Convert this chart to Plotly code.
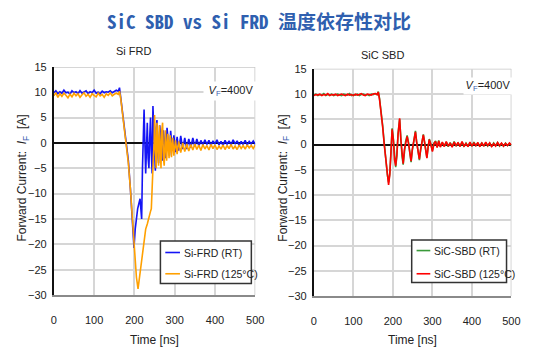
import plotly.graph_objects as go

# ---------------- data ----------------
flat_t = [0, 5, 10, 15, 20, 25, 30, 35, 40, 45, 50, 55, 60, 65, 70, 75,
          80, 85, 90, 95, 100, 105, 110, 115, 120, 125, 130, 135, 140, 145, 150, 155]

# Si FRD, room temperature (blue)
si_rt_flat = [9.9, 10.3, 9.7, 10.1, 9.8, 10.4, 9.9, 10.0, 9.6, 10.3, 9.9, 10.1, 9.7, 10.3, 9.8, 10.0,
              10.3, 9.7, 10.1, 9.9, 10.4, 9.8, 10.0, 9.7, 10.2, 9.9, 10.1, 10.0, 10.3, 9.9, 10.2, 10.4]
si_rt_tr_t = [160, 163, 166, 170, 175, 180, 185, 190, 195, 199, 202, 205, 208, 211, 214, 216, 218, 220,
              222, 224, 226, 228, 230, 232, 234, 236, 238, 240, 242, 244, 246, 248, 250, 252, 254, 256,
              258, 260, 263, 266, 269, 272, 275, 278, 281, 284, 287, 290, 294, 298, 302, 306, 310, 315,
              320, 325, 330, 335, 340, 345, 350, 355, 360]
si_rt_tr = [10.2, 10.9, 9.0, 6.5, 3.5, 0.5, -3.5, -9.0, -15.0, -20.7, -17.0, -14.5, -13.0, -12.0, -11.0,
            -13.0, -15.0, -5.0, 3.0, 6.6, 0.0, -6.0, -1.0, 4.0, -3.0, -5.0, 1.0, 5.0, -2.0, -6.0, 7.3,
            2.0, -4.0, -5.5, 3.0, 4.5, -2.0, -4.0, 3.5, -1.0, -3.5, 2.5, -1.0, -3.0, 3.0, 0.0, -2.5,
            2.4, -1.5, 1.5, -1.8, 1.2, -1.5, 1.4, -1.2, 1.0, -1.2, 0.8, -0.9, 1.0, -0.7, 0.8, -0.6]
si_rt_tail_t = [365, 370, 375, 380, 385, 390, 395, 400, 405, 410, 415, 420, 425, 430,
                435, 440, 445, 450, 455, 460, 465, 470, 475, 480, 485, 490, 495, 500]
si_rt_tail = [0.5, -0.4, 0.6, -0.3, 0.5, -0.5, 0.4, -0.2, 0.6, -0.4, 0.3, -0.5, 0.5, -0.3,
              0.4, -0.4, 0.6, -0.2, 0.4, -0.5, 0.3, -0.3, 0.5, -0.4, 0.3, -0.2, 0.4, -0.3]

# Si FRD, 125 C (orange)
si_ht_flat = [9.3, 9.9, 9.0, 9.7, 9.2, 9.8, 9.4, 8.9, 9.6, 9.1, 9.8, 9.3, 9.7, 9.0, 9.5, 9.9,
              9.2, 9.6, 9.0, 9.7, 9.4, 9.1, 9.8, 9.3, 9.6, 9.0, 9.7, 9.4, 9.9, 9.3, 9.6, 9.8]
si_ht_tr_t = [160, 163, 166, 170, 175, 180, 185, 190, 195, 200, 205, 209, 212, 216, 220, 224, 228,
              232, 236, 240, 242, 243, 245, 247, 249, 250, 252, 254, 256, 258, 260, 262, 264, 266,
              268, 270, 272, 274, 277, 280, 283, 286, 289, 292, 295, 298, 302, 306, 310, 315, 320,
              325, 330, 335, 340]
si_ht_tr = [9.6, 10.2, 8.8, 6.0, 3.0, 0.0, -4.0, -9.0, -15.0, -21.0, -26.5, -28.8, -27.0, -24.5,
            -21.5, -19.0, -17.0, -16.0, -14.5, -13.5, -13.0, -10.0, -6.0, -3.0, 0.0, 5.5, -1.0,
            -5.0, 4.0, 1.0, -4.5, 3.5, -3.0, -5.0, 2.5, 4.0, -3.0, -4.5, 2.5, -3.5, 1.8, -3.0,
            1.5, -2.8, 1.0, -2.5, 0.5, -2.2, 0.3, -1.9, 0.0, -1.7, -0.2, -1.6, -0.3]
si_ht_tail_t = [345, 350, 355, 360, 365, 370, 375, 380, 385, 390, 395, 400, 405, 410, 415, 420,
                425, 430, 435, 440, 445, 450, 455, 460, 465, 470, 475, 480, 485, 490, 495, 500]
si_ht_tail = [-1.4, -0.2, -1.3, -0.4, -1.5, -0.3, -1.2, -0.5, -1.4, -0.3, -1.1, -0.4, -1.3, -0.6,
              -1.2, -0.4, -1.3, -0.5, -1.1, -0.3, -1.2, -0.6, -1.3, -0.4, -1.1, -0.5, -1.2, -0.4,
              -1.0, -0.5, -1.1, -0.4]

# SiC SBD (green = RT, red = 125 C)
sic_flat_rt = [9.8, 10.0, 9.7, 9.9, 9.8, 10.1, 9.7, 9.9, 9.8, 10.0, 9.7, 9.9, 10.0, 9.8, 9.7, 10.0,
               9.9, 9.8, 10.1, 9.7, 9.9, 9.8, 10.0, 9.7, 9.9, 10.0, 9.8, 9.9, 9.7, 10.0, 9.9, 10.1]
sic_flat_ht = [9.7, 9.9, 9.8, 10.0, 9.7, 9.9, 9.8, 10.1, 9.7, 9.9, 9.8, 10.0, 9.7, 9.9, 10.0, 9.8,
               9.7, 10.0, 9.8, 9.9, 9.7, 10.0, 9.8, 9.9, 10.1, 9.8, 9.7, 10.0, 9.9, 9.8, 10.0, 10.1]
sic_tr_t = [160, 163, 166, 170, 174, 178, 182, 186, 189, 192, 195, 198, 201, 204, 207, 210, 213, 217,
            220, 223, 226, 229, 232, 236, 240, 243, 246, 249, 253, 257, 260, 264, 267, 270, 274, 277,
            280, 283, 286, 289, 292, 296, 300, 304, 308, 312, 316, 320]
sic_tr_rt = [9.9, 10.5, 9.2, 6.8, 3.8, 0.3, -3.2, -6.0, -7.5, -5.8, -1.8, 3.2, 1.2, -2.8, -4.5, -2.2,
             2.2, 5.0, 1.2, -2.3, -4.0, -1.2, 0.6, 1.8, 0.2, -1.8, -3.5, -1.2, 1.1, 2.7, 0.6, -1.8,
             -3.1, -1.2, 0.9, 2.0, 0.6, -1.4, -2.6, -0.6, 1.1, 0.1, -1.2, 0.3, 0.7, -0.5, 0.8, -0.4]
sic_tr_ht = [9.9, 10.4, 9.0, 6.5, 3.5, 0.0, -3.5, -6.5, -8.0, -6.0, -2.0, 3.0, 1.0, -3.0, -4.2, -2.0,
             2.0, 5.2, 1.0, -2.5, -3.8, -1.0, 0.5, 1.6, 0.0, -2.0, -3.3, -1.0, 1.0, 2.5, 0.5, -2.0,
             -2.9, -1.0, 0.8, 1.9, 0.5, -1.5, -2.7, -0.5, 1.0, 0.0, -1.4, 0.2, 0.6, -0.6, 0.7, -0.5]
sic_tail_t = [325, 330, 335, 340, 345, 350, 355, 360, 365, 370, 375, 380, 385, 390, 395, 400, 405, 410,
              415, 420, 425, 430, 435, 440, 445, 450, 455, 460, 465, 470, 475, 480, 485, 490, 495, 500]
sic_tail_rt = [0.4, -0.3, 0.5, -0.4, 0.4, -0.4, 0.6, -0.3, 0.3, -0.3, 0.5, -0.4, 0.3, -0.3, 0.4, -0.3,
               0.5, -0.2, 0.3, -0.3, 0.4, -0.3, 0.4, -0.3, 0.3, -0.4, 0.3, -0.2, 0.4, -0.3, 0.2, -0.3,
               0.3, -0.2, 0.2, -0.1]
sic_tail_ht = [0.5, -0.4, 0.6, -0.3, 0.3, -0.5, 0.5, -0.2, 0.4, -0.4, 0.6, -0.3, 0.2, -0.4, 0.5, -0.3,
               0.3, -0.2, 0.4, -0.4, 0.3, -0.3, 0.5, -0.2, 0.3, -0.4, 0.2, -0.3, 0.4, -0.2, 0.3, -0.3,
               0.2, -0.2, 0.3, -0.1]

x_ticks = [0, 100, 200, 300, 400, 500]
y_ticks = [-30, -25, -20, -15, -10, -5, 0, 5, 10, 15]
series_names = ['Si-FRD (RT)', 'Si-FRD (125°C)', 'SiC-SBD (RT)', 'SiC-SBD (125°C)']

# ---------------- assemble series ----------------
t_si_rt = flat_t + si_rt_tr_t + si_rt_tail_t
i_si_rt = si_rt_flat + si_rt_tr + si_rt_tail
t_si_ht = flat_t + si_ht_tr_t + si_ht_tail_t
i_si_ht = si_ht_flat + si_ht_tr + si_ht_tail
t_sic = flat_t + sic_tr_t + sic_tail_t
i_sic_rt = sic_flat_rt + sic_tr_rt + sic_tail_rt
i_sic_ht = sic_flat_ht + sic_tr_ht + sic_tail_ht

W, H = 539, 360
def px(x):
    return x / W
def py(y):
    return 1 - y / H

BLUE = '#1414f5'
ORANGE = '#ffa000'
GREEN = '#3a9a3a'
RED = '#ff0000'
COLORS = [BLUE, ORANGE, GREEN, RED]
FONT = 'Liberation Sans, Arial, sans-serif'

fig = go.Figure()
for tx, iy, ax, ay, k in ((t_si_rt, i_si_rt, 'x', 'y', 0), (t_si_ht, i_si_ht, 'x', 'y', 1),
                          (t_sic, i_sic_rt, 'x2', 'y2', 2), (t_sic, i_sic_ht, 'x2', 'y2', 3)):
    fig.add_trace(go.Scatter(x=tx, y=iy, mode='lines', name=series_names[k],
                             line=dict(color=COLORS[k], width=1.6), xaxis=ax, yaxis=ay,
                             showlegend=False, hoverinfo='skip'))

axis_common_x = dict(range=[0, 500], tickvals=x_ticks, showgrid=True, gridcolor='#d6d6d6',
                     gridwidth=1.5, zeroline=False, showline=True, linecolor='#8a8a8a',
                     linewidth=1.5, ticks='outside', ticklen=14,
                     tickcolor='rgba(0,0,0,0)', tickfont=dict(family=FONT, size=11, color='#222'))
axis_common_y = dict(range=[-30, 15], tickvals=y_ticks, showgrid=True, gridcolor='#d6d6d6',
                     gridwidth=1.5, zeroline=True, zerolinecolor='#111', zerolinewidth=1.5,
                     showline=True, linecolor='#111', linewidth=2,
                     ticks='outside', ticklen=3, tickcolor='rgba(0,0,0,0)',
                     tickfont=dict(family=FONT, size=11, color='#222'))

L = dict(x0=52, x1=258, top=63, bot=299)
R = dict(x0=318, x1=520, top=65, bot=300)

fig.update_layout(
    width=W, height=H, margin=dict(l=0, r=0, t=0, b=0),
    paper_bgcolor='white', plot_bgcolor='white', showlegend=False,
    xaxis=dict(domain=[px(L['x0']), px(L['x1'])], anchor='y', **axis_common_x),
    yaxis=dict(domain=[py(L['bot']), py(L['top'])], anchor='x', **axis_common_y),
    xaxis2=dict(domain=[px(R['x0']), px(R['x1'])], anchor='y2', **axis_common_x),
    yaxis2=dict(domain=[py(R['bot']), py(R['top'])], anchor='x2', **axis_common_y),
)

shapes = []
ann = []
# light frame on top/right
for xr, yr in (('x', 'y'), ('x2', 'y2')):
    shapes.append(dict(type='line', xref=xr, yref=yr, x0=0, x1=500, y0=15, y1=15,
                       line=dict(color='#c8c8c8', width=1.5), layer='below'))
    shapes.append(dict(type='line', xref=xr, yref=yr, x0=500, x1=500, y0=-30, y1=15,
                       line=dict(color='#c8c8c8', width=1.5), layer='below'))

# legends (drawn as boxes with line samples and labels)
legend_boxes = [
    dict(x0=161, x1=254, y0=243, y1=287, sx=(166, 181), tx=183, rows=(255, 277), k=(0, 1)),
    dict(x0=418, x1=515, y0=242, y1=286, sx=(423, 437), tx=439, rows=(253, 277), k=(2, 3)),
]
for b in legend_boxes:
    shapes.append(dict(type='rect', xref='paper', yref='paper', x0=px(b['x0']), x1=px(b['x1']),
                       y0=py(b['y1']), y1=py(b['y0']), fillcolor='white',
                       line=dict(color='#333', width=1.5), layer='above'))
    for row, k in zip(b['rows'], b['k']):
        shapes.append(dict(type='line', xref='paper', yref='paper', x0=px(b['sx'][0]),
                           x1=px(b['sx'][1]), y0=py(row), y1=py(row),
                           line=dict(color=COLORS[k], width=1.6), layer='above'))
        ann.append(dict(text=series_names[k], x=px(b['tx']), y=py(row), xref='paper', yref='paper',
                        xanchor='left', yanchor='middle', showarrow=False,
                        font=dict(family=FONT, size=10.5, color='#222')))
fig.update_layout(shapes=shapes)

ann.append(dict(text='<b>SiC SBD vs Si FRD 温度依存性对比</b>', x=px(262), y=py(15),
                xref='paper', yref='paper', showarrow=False, xanchor='center', yanchor='middle',
                font=dict(family='Noto Sans Mono CJK SC, Noto Sans CJK SC, DejaVu Sans Mono',
                          size=19, color='#2f5faf')))
ann.append(dict(text='Si FRD', x=px(134), y=py(47), xref='paper', yref='paper', showarrow=False,
                xanchor='center', yanchor='middle', font=dict(family=FONT, size=11, color='#222')))
ann.append(dict(text='SiC SBD', x=px(388), y=py(51), xref='paper', yref='paper', showarrow=False,
                xanchor='center', yanchor='middle', font=dict(family=FONT, size=11, color='#222')))
for cx in (155, 419):
    ann.append(dict(text='Time [ns]', x=px(cx), y=py(346), xref='paper', yref='paper',
                    xanchor='center', yanchor='middle',
                    showarrow=False, font=dict(family=FONT, size=12, color='#222')))
ylab = 'Forward Current:  <i>I</i><sub><span style="color:#4060b0">F</span></sub>  [A]'
for cx in (21, 287):
    ann.append(dict(text=ylab, x=px(cx), y=py(178), xref='paper', yref='paper', textangle=-90,
                    xanchor='center', yanchor='middle',
                    showarrow=False, font=dict(family=FONT, size=12, color='#222')))
vlab = '<i>V</i><sub><span style="color:#4060b0">F</span></sub>=400V'
ann.append(dict(text=vlab, x=px(205), y=py(88), xref='paper', yref='paper', xanchor='left',
                yanchor='middle', width=52, height=16, align='center', bgcolor='white',
                showarrow=False, font=dict(family=FONT, size=11, color='#222')))
ann.append(dict(text=vlab, x=px(470), y=py(83), xref='paper', yref='paper', xanchor='left',
                yanchor='middle', width=46, height=14, align='center', bgcolor='white',
                showarrow=False, font=dict(family=FONT, size=11, color='#222')))
fig.update_layout(annotations=ann)

fig.write_html('out.html', config={'displayModeBar': False},
               post_script="document.body.style.margin='0px';")
